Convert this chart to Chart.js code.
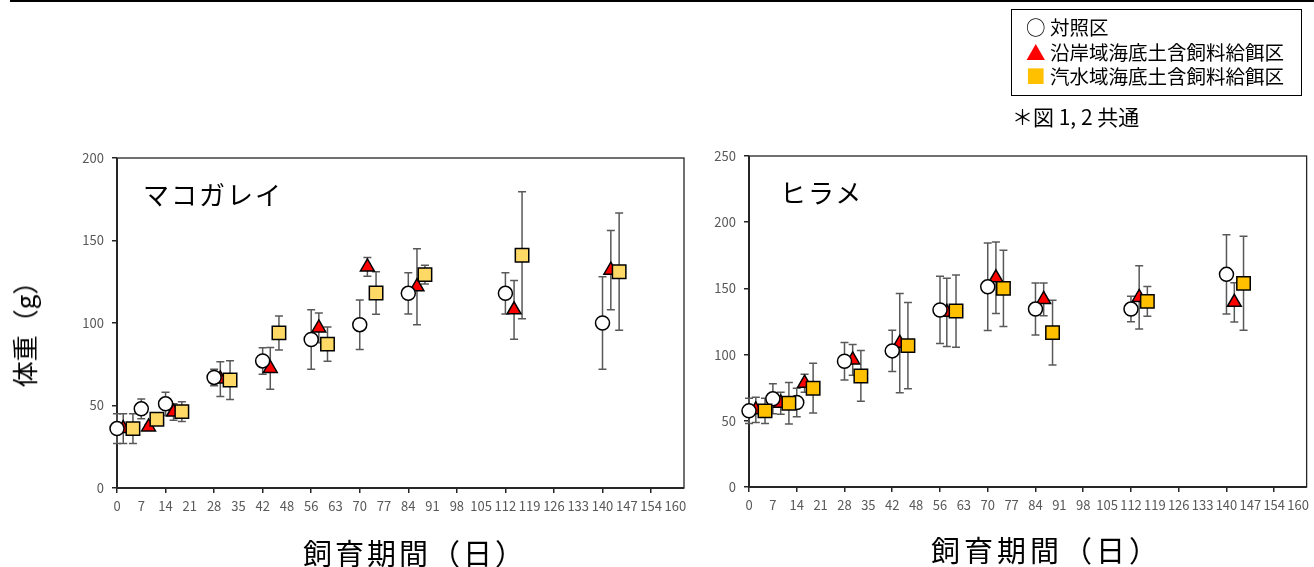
<!DOCTYPE html>
<html>
<head>
<meta charset="utf-8">
<script src="https://cdn.jsdelivr.net/npm/chart.js@4.4.1/dist/chart.umd.min.js"></script>
<style>
    body { margin: 0; width: 1314px; height: 567px; position: relative; overflow: hidden; background: #fff;
           font-family: "Noto Sans CJK JP", sans-serif; color: #000; }
    .abs { position: absolute; white-space: nowrap; line-height: 1; }
    #topLine { position: absolute; left: 10px; top: 0; width: 1304px; height: 2px; background: #000; }
    #chartL { position: absolute; left: 0; top: 0; }
    #chartR { position: absolute; left: 700px; top: 0; }
    #legendBox { position: absolute; left: 1011px; top: 9px; width: 291px; height: 87px; border: 1.5px solid #000; box-sizing: border-box; }
    .legText { font-size: 19.5px; }
    .axisTitle { font-size: 29px; letter-spacing: 3px; }
    .fishName { font-size: 26px; letter-spacing: 2px; }
</style>
</head>
<body>
<div id="topLine"></div>
<canvas id="chartL" width="700" height="567"></canvas>
<canvas id="chartR" width="614" height="567"></canvas>

<div class="abs" style="left:24px; top:328px; font-size:26px; transform: translate(-50%,-50%) rotate(-90deg);">体重（g）</div>
<div class="abs axisTitle" style="left:303px; top:538px;">飼育期間（日）</div>
<div class="abs axisTitle" style="left:931px; top:535px; letter-spacing:4px;">飼育期間（日）</div>
<div class="abs fishName" style="left:143px; top:181px;">マコガレイ</div>
<div class="abs fishName" style="left:780px; top:179px;">ヒラメ</div>

<div id="legendBox"></div>
<div class="abs legText" style="left:1026px; top:17px;">○</div>
<div class="abs legText" style="left:1050px; top:17px;">対照区</div>
<div class="abs legText" style="left:1026px; top:42px; color:#ff0000;">▲</div>
<div class="abs legText" style="left:1050px; top:42px;">沿岸域海底土含飼料給餌区</div>
<div class="abs legText" style="left:1026px; top:66px; color:#ffc000;">■</div>
<div class="abs legText" style="left:1050px; top:66px;">汽水域海底土含飼料給餌区</div>
<div class="abs" style="left:1012px; top:106px; font-size:21px;">＊図 1, 2 共通</div>

<script>
// x tick labels (as printed on the original axis)
const xTickLabels = ['0', '7', '14', '21', '28', '35', '42', '48', '56', '63', '70', '77',
    '84', '91', '98', '105', '112', '119', '126', '133', '140', '147', '154', '160'];

// マコガレイ
const makoCtrlDays = [0, 7, 14, 28, 42, 56, 70, 84, 112, 140];
const makoCtrlMean = [36, 48, 51, 67, 77, 90, 99, 118, 118, 100];
const makoCtrlSd = [9, 6, 7, 5, 8, 18, 15, 12.5, 12.5, 28];

const makoCoastDays = [1.8, 9.1, 16.3, 29.8, 44.2, 58.2, 72.2, 86.5, 114.5, 142.4];
const makoCoastMean = [36, 37, 46, 66, 72.5, 97, 134, 122, 108, 132];
const makoCoastSd = [9, 1.5, 5, 10.5, 12.7, 9, 5.7, 23, 17.8, 24];

const makoBrackDays = [4.6, 11.5, 18.7, 32.6, 46.7, 60.7, 74.7, 88.8, 116.8, 144.8];
const makoBrackMean = [36, 41.7, 46.3, 65.4, 94, 87.2, 118.2, 129.3, 141.1, 131.1];
const makoBrackSd = [9, 3, 6, 11.7, 10.3, 10.4, 12.9, 5.7, 38.5, 35.5];

// ヒラメ
const hiraCtrlDays = [0, 7, 14, 28, 42, 56, 70, 84, 112, 140];
const hiraCtrlMean = [57.5, 66.6, 63.8, 95, 102.8, 133.7, 151.2, 134.4, 134.4, 160.6];
const hiraCtrlSd = [9.5, 11.3, 10.8, 14.2, 15.5, 25.4, 33, 19.6, 9.6, 30];

const hiraCoastDays = [2, 9.3, 16.3, 30.4, 44.2, 58, 72.4, 86.4, 114.4, 142.3];
const hiraCoastMean = [58.3, 63.3, 78.4, 96, 108.6, 131.9, 158, 141.7, 143.2, 139.5];
const hiraCoastSd = [9.5, 8.3, 6.8, 11.6, 37.5, 25.7, 27, 12.3, 23.9, 14.8];

const hiraBrackDays = [4.7, 11.7, 18.8, 32.8, 46.6, 60.7, 74.6, 89, 116.8, 145];
const hiraBrackMean = [57.5, 63.3, 74.6, 83.9, 106.8, 132.9, 150, 116.6, 140.2, 153.8];
const hiraBrackSd = [9.5, 15.7, 18.8, 19.2, 32.5, 27.3, 28.8, 24.5, 11.2, 35.5];

const toPoints = (days, vals) => days.map((d, i) => ({ x: d, y: vals[i] }));

// frame of the plot area + error bars, drawn under the markers
const frameAndErrors = {
    id: 'frameAndErrors',
    beforeDatasetsDraw(chart) {
        const { ctx, chartArea: a, scales: { x, y } } = chart;
        ctx.save();
        ctx.strokeStyle = '#262626';
        ctx.lineWidth = 1.3;
        ctx.strokeRect(a.left, a.top, a.right - a.left, a.bottom - a.top);
        ctx.lineWidth = 2;
        ctx.beginPath();
        ctx.moveTo(a.left, a.top);
        ctx.lineTo(a.left, a.bottom);
        ctx.lineTo(a.right, a.bottom);
        ctx.stroke();

        ctx.strokeStyle = '#595959';
        ctx.lineWidth = 1.5;
        chart.data.datasets.forEach(ds => {
            ds.data.forEach((p, i) => {
                const px = x.getPixelForValue(p.x);
                const top = y.getPixelForValue(p.y + ds.sd[i]);
                const bot = y.getPixelForValue(p.y - ds.sd[i]);
                ctx.beginPath();
                ctx.moveTo(px, top);
                ctx.lineTo(px, bot);
                ctx.moveTo(px - 4, top);
                ctx.lineTo(px + 4, top);
                ctx.moveTo(px - 4, bot);
                ctx.lineTo(px + 4, bot);
                ctx.stroke();
            });
        });
        ctx.restore();
    }
};

function makeChart(canvasId, series, opts) {
    const tickFont = { family: '"Noto Sans CJK JP", sans-serif', size: 13 };
    return new Chart(document.getElementById(canvasId), {
        type: 'scatter',
        data: {
            datasets: [
                {
                    label: '対照区',
                    data: toPoints(series.ctrlDays, series.ctrlMean),
                    sd: series.ctrlSd,
                    pointStyle: 'circle',
                    pointRadius: 7,
                    backgroundColor: '#ffffff',
                    borderColor: '#000000',
                    borderWidth: 1.5,
                    order: 1,
                    clip: false
                },
                {
                    label: '沿岸域海底土含飼料給餌区',
                    data: toPoints(series.coastDays, series.coastMean),
                    sd: series.coastSd,
                    pointStyle: 'triangle',
                    pointRadius: 8,
                    backgroundColor: '#ff0000',
                    borderColor: '#000000',
                    borderWidth: 1.5,
                    order: 2,
                    clip: false
                },
                {
                    label: '汽水域海底土含飼料給餌区',
                    data: toPoints(series.brackDays, series.brackMean),
                    sd: series.brackSd,
                    pointStyle: 'rect',
                    pointRadius: 9.5,
                    backgroundColor: opts.squareColor,
                    borderColor: '#000000',
                    borderWidth: 1.5,
                    order: 0,
                    clip: false
                }
            ]
        },
        options: {
            responsive: false,
            animation: false,
            events: [],
            layout: { padding: opts.padding, autoPadding: false },
            plugins: { legend: { display: false }, tooltip: { enabled: false } },
            scales: {
                x: {
                    type: 'linear',
                    min: 0,
                    max: 163.5,
                    afterFit: s => { s.height = opts.xHeight; },
                    border: { display: false },
                    grid: {
                        drawOnChartArea: false,
                        tickLength: 5,
                        lineWidth: 1.5,
                        color: c => (c.tick && c.tick.value % 14 === 0) ? '#262626' : 'rgba(0,0,0,0)'
                    },
                    ticks: {
                        stepSize: 7,
                        includeBounds: false,
                        autoSkip: false,
                        maxRotation: 0,
                        padding: 5,
                        color: '#595959',
                        font: tickFont,
                        callback: v => xTickLabels[Math.round(v / 7)]
                    }
                },
                y: {
                    min: 0,
                    max: opts.yMax,
                    afterFit: s => { s.width = opts.yWidth; },
                    border: { display: false },
                    grid: { drawOnChartArea: false, tickLength: 5, lineWidth: 1.5, color: '#262626' },
                    ticks: { stepSize: 50, padding: 8, color: '#595959', font: tickFont }
                }
            }
        },
        plugins: [frameAndErrors]
    });
}

makeChart('chartL', {
    ctrlDays: makoCtrlDays, ctrlMean: makoCtrlMean, ctrlSd: makoCtrlSd,
    coastDays: makoCoastDays, coastMean: makoCoastMean, coastSd: makoCoastSd,
    brackDays: makoBrackDays, brackMean: makoBrackMean, brackSd: makoBrackSd
}, { squareColor: '#ffd966', yMax: 200, yWidth: 117, xHeight: 79,
     padding: { left: 0, top: 158, right: 16, bottom: 0 } });

makeChart('chartR', {
    ctrlDays: hiraCtrlDays, ctrlMean: hiraCtrlMean, ctrlSd: hiraCtrlSd,
    coastDays: hiraCoastDays, coastMean: hiraCoastMean, coastSd: hiraCoastSd,
    brackDays: hiraBrackDays, brackMean: hiraBrackMean, brackSd: hiraBrackSd
}, { squareColor: '#ffc000', yMax: 250, yWidth: 49, xHeight: 80,
     padding: { left: 0, top: 156, right: 5, bottom: 0 } });
</script>
</body>
</html>
